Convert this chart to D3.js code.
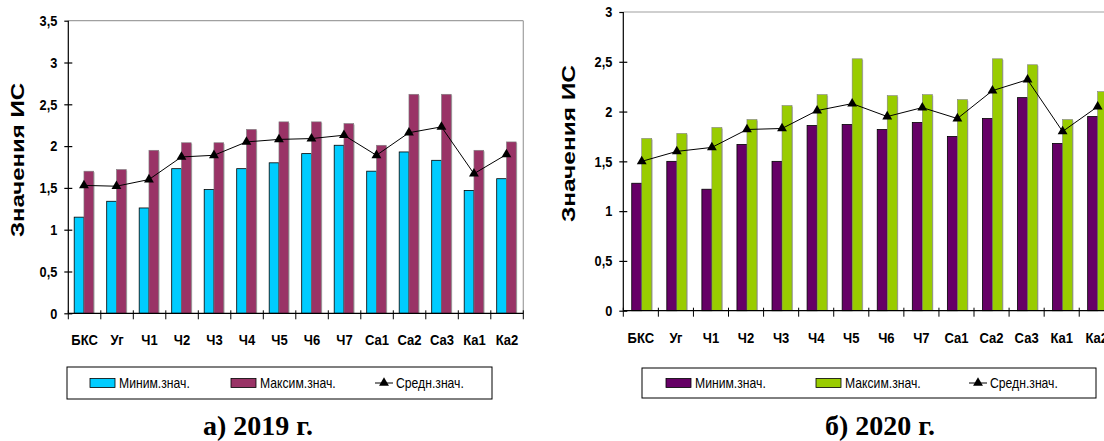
<!DOCTYPE html>
<html><head><meta charset="utf-8">
<script src="https://cdn.jsdelivr.net/npm/d3@7"></script>
<style>
html,body{margin:0;padding:0;background:#fff;}
svg{display:block;}
</style></head>
<body>
<svg id="chart" width="1104" height="441"></svg>
<script>
const categories = ["БКС","Уг","Ч1","Ч2","Ч3","Ч4","Ч5","Ч6","Ч7","Са1","Са2","Са3","Ка1","Ка2"];
const seriesNames = ["Миним.знач.","Максим.знач.","Средн.знач."];
const yTitle = "Значения ИС";

const min2019 = [1.15,1.34,1.26,1.73,1.48,1.73,1.80,1.91,2.01,1.70,1.93,1.83,1.47,1.61];
const max2019 = [1.70,1.72,1.95,2.04,2.04,2.20,2.29,2.29,2.27,2.01,2.62,2.62,1.95,2.05];
const avg2019 = [1.53,1.52,1.60,1.87,1.89,2.05,2.08,2.09,2.13,1.89,2.16,2.23,1.67,1.90];
const ticks2019 = [0,0.5,1,1.5,2,2.5,3,3.5];
const tickLabels2019 = ["0","0,5","1","1,5","2","2,5","3","3,5"];

const min2020 = [1.28,1.50,1.22,1.67,1.50,1.86,1.87,1.82,1.89,1.75,1.93,2.14,1.68,1.95];
const max2020 = [1.73,1.78,1.84,1.92,2.06,2.17,2.53,2.16,2.17,2.12,2.53,2.47,1.92,2.20];
const avg2020 = [1.50,1.60,1.64,1.82,1.83,2.01,2.08,1.95,2.04,1.93,2.21,2.32,1.80,2.05];
const ticks2020 = [0,0.5,1,1.5,2,2.5,3];
const tickLabels2020 = ["0","0,5","1","1,5","2","2,5","3"];

const captions = ["а) 2019 г.","б) 2020 г."];

const SANS = "'Liberation Sans',Arial,sans-serif";
const SERIF = "'Liberation Serif','Times New Roman',serif";

const svg = d3.select("#chart");

function condense(sel, f){
  sel.each(function(){
    const len = this.getComputedTextLength();
    d3.select(this).attr("textLength", len*f).attr("lengthAdjust","spacingAndGlyphs");
  });
}

function drawChart(cfg){
  const g = svg.append("g");
  const x = d3.scaleBand().domain(categories).range([cfg.x0, cfg.x1]).padding(0);
  const y = d3.scaleLinear().domain([0, cfg.yMax]).range([cfg.yBottom, cfg.yTop]);
  const bw = x.bandwidth()*cfg.barFrac;
  const off = cfg.groupOffset;

  g.append("line").attr("x1",cfg.x0).attr("x2",cfg.frameRight).attr("y1",cfg.yTop).attr("y2",cfg.yTop)
    .attr("stroke","#a0a0a0").attr("stroke-width",1.2);
  if(cfg.frameRight <= 1104){
    g.append("line").attr("x1",cfg.frameRight).attr("x2",cfg.frameRight).attr("y1",cfg.yTop).attr("y2",cfg.yBottom)
      .attr("stroke","#a0a0a0").attr("stroke-width",1.2);
  }

  categories.forEach((c,i)=>{
    const cx = x(c)+x.bandwidth()/2+off;
    g.append("rect").attr("x",cx-bw+1).attr("y",y(cfg.min[i])+1).attr("width",bw).attr("height",y(0)-y(cfg.min[i])-1)
      .attr("fill","#bdbdbd");
    g.append("rect").attr("x",cx+1).attr("y",y(cfg.max[i])+1).attr("width",bw).attr("height",y(0)-y(cfg.max[i])-1)
      .attr("fill","#bdbdbd");
    g.append("rect").attr("x",cx-bw).attr("y",y(cfg.min[i])).attr("width",bw).attr("height",y(0)-y(cfg.min[i]))
      .attr("fill",cfg.c1).attr("stroke","#000").attr("stroke-width",0.8);
    g.append("rect").attr("x",cx).attr("y",y(cfg.max[i])).attr("width",bw).attr("height",y(0)-y(cfg.max[i]))
      .attr("fill",cfg.c2).attr("stroke","#808080").attr("stroke-width",0.6);
  });

  const line = d3.line().x((d,i)=>x(categories[i])+x.bandwidth()/2+off).y(d=>y(d));
  g.append("path").datum(cfg.avg).attr("d",line).attr("fill","none").attr("stroke","#000").attr("stroke-width",1);
  const tri = d3.symbol().type(d3.symbolTriangle).size(42);
  g.selectAll(".tri").data(cfg.avg).join("path")
    .attr("transform",(d,i)=>`translate(${x(categories[i])+x.bandwidth()/2+off},${y(d)})`)
    .attr("d",tri).attr("fill","#000");

  const yAxis = d3.axisLeft(y).tickValues(cfg.ticks).tickFormat((d,i)=>cfg.tickLabels[i]).tickSize(4).tickPadding(7);
  const ya = g.append("g").attr("transform",`translate(${cfg.x0},0)`).call(yAxis);
  ya.select(".domain").attr("d",`M0,${cfg.yTop}V${cfg.yBottom}`).attr("stroke","#000").attr("stroke-width",1.2);
  ya.selectAll(".tick line").attr("x1",-4).attr("x2",4).attr("stroke","#000").attr("stroke-width",1.2);
  ya.selectAll(".tick text").attr("font-family",SANS).attr("font-weight","bold").attr("font-size",15).attr("fill","#000");
  ya.selectAll(".tick").filter(d=>d===cfg.yMax).select("line").attr("x2",0);
  condense(ya.selectAll(".tick text"), 0.85);

  const xAxis = d3.axisBottom(x).tickSize(0).tickPadding(0);
  const xa = g.append("g").attr("transform",`translate(0,${cfg.yBottom})`).call(xAxis);
  xa.select(".domain").attr("d",`M${cfg.x0},0H${Math.min(cfg.x1,1104)}`).attr("stroke","#000").attr("stroke-width",1.2);
  xa.selectAll(".tick text").attr("dy",0).attr("y",cfg.labelDy)
    .attr("font-family",SANS).attr("font-weight","bold").attr("font-size",15.5).attr("fill","#000");
  condense(xa.selectAll(".tick text"), 0.84);
  const bounds = categories.map(c=>x(c)).concat([cfg.x1]);
  xa.selectAll(".btick").data(bounds).join("line").attr("class","btick")
    .attr("x1",d=>d).attr("x2",d=>d).attr("y1",-3).attr("y2",6).attr("stroke","#000").attr("stroke-width",1);

  svg.append("text").attr("transform",`translate(${cfg.titleX},${cfg.titleY}) rotate(-90)`)
    .attr("text-anchor","middle").attr("dominant-baseline","central")
    .attr("font-family",SANS).attr("font-weight","bold").attr("font-size",19)
    .attr("textLength",cfg.titleLen).attr("lengthAdjust","spacingAndGlyphs")
    .text(yTitle);

  const L = cfg.legend;
  svg.append("rect").attr("x",L.x0).attr("y",L.y0).attr("width",L.x1-L.x0).attr("height",L.y1-L.y0)
    .attr("fill","#fff").attr("stroke","#000").attr("stroke-width",1);
  const ly = (L.y0+L.y1)/2;
  [[L.s1,cfg.c1],[L.s2,cfg.c2]].forEach(([sx,col],k)=>{
    svg.append("rect").attr("x",sx).attr("y",ly-4.5).attr("width",25).attr("height",9)
      .attr("fill",col).attr("stroke","#000").attr("stroke-width",0.8);
    const t = svg.append("text").attr("x",sx+29).attr("y",ly).attr("dominant-baseline","central")
      .attr("font-family",SANS).attr("font-size",14.5).text(seriesNames[k]);
    condense(t, 0.84);
  });
  svg.append("line").attr("x1",L.s3).attr("x2",L.s3+18).attr("y1",ly).attr("y2",ly).attr("stroke","#000").attr("stroke-width",1);
  svg.append("path").attr("transform",`translate(${L.s3+9},${ly})`).attr("d",tri).attr("fill","#000");
  const t3 = svg.append("text").attr("x",L.s3+21).attr("y",ly).attr("dominant-baseline","central")
    .attr("font-family",SANS).attr("font-size",14.5).text(seriesNames[2]);
  condense(t3, 0.84);

  svg.append("text").attr("x",cfg.capX).attr("y",435).attr("text-anchor","middle")
    .attr("font-family",SERIF).attr("font-weight","bold").attr("font-size",28).text(cfg.caption);
}

drawChart({
  x0:68.3, x1:523.3, frameRight:523.3, yTop:20.7, yBottom:313.3, yMax:3.5,
  barFrac:0.3, groupOffset:-0.6,
  min:min2019, max:max2019, avg:avg2019, ticks:ticks2019, tickLabels:tickLabels2019,
  c1:"#00ccff", c2:"#993366",
  labelDy:32, titleX:17.5, titleY:160, titleLen:154,
  legend:{x0:67,x1:492,y0:367,y1:399,s1:90,s2:231,s3:375},
  capX:258, caption:captions[0]
});
drawChart({
  x0:623.3, x1:1114.3, frameRight:1200, yTop:12, yBottom:310.7, yMax:3,
  barFrac:0.285, groupOffset:0.9,
  min:min2020, max:max2020, avg:avg2020, ticks:ticks2020, tickLabels:tickLabels2020,
  c1:"#660066", c2:"#99cc00",
  labelDy:32, titleX:568, titleY:143.5, titleLen:157,
  legend:{x0:642,x1:1096,y0:368,y1:398,s1:666,s2:816,s3:969},
  capX:880, caption:captions[1]
});
</script>
</body></html>
